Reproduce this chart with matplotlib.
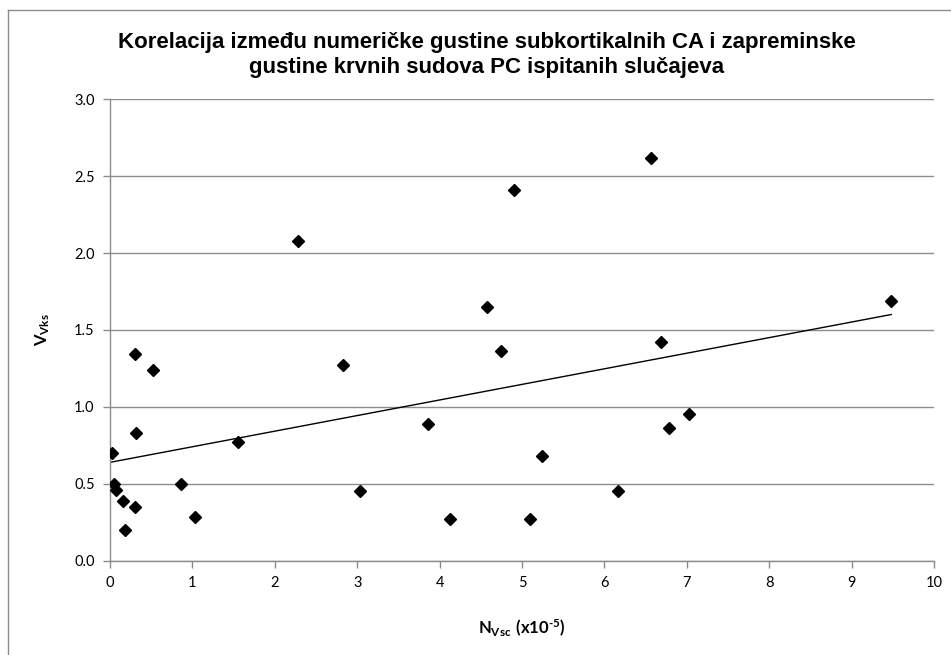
import numpy as np
import matplotlib
matplotlib.use('Agg')
import matplotlib.pyplot as plt
from matplotlib.lines import Line2D

# values
n_vsc = [0.02, 0.05, 0.07, 0.16, 0.18, 0.30, 0.30, 0.31, 0.52, 0.86, 1.03, 1.55, 2.28, 2.83,
         3.04, 3.86, 4.13, 4.58, 4.75, 4.90, 5.10, 5.24, 6.16, 6.56, 6.69, 6.79, 7.03, 9.48]
v_vks = [0.70, 0.50, 0.46, 0.39, 0.20, 0.35, 1.34, 0.83, 1.24, 0.50, 0.28, 0.77, 2.08, 1.27,
         0.45, 0.89, 0.27, 1.65, 1.36, 2.41, 0.27, 0.68, 0.45, 2.62, 1.42, 0.86, 0.95, 1.69]
x_ticks = [0, 1, 2, 3, 4, 5, 6, 7, 8, 9, 10]
y_ticks = [0.0, 0.5, 1.0, 1.5, 2.0, 2.5, 3.0]
title = 'Korelacija između numeričke gustine subkortikalnih CA i zapreminske\ngustine krvnih sudova PC ispitanih slučajeva'
x_label = r'$\mathbf{N_{Vsc}\ (x10^{' + '\u2010' + r'5})}$'
y_label = r'$\mathbf{V_{Vks}}$'

plt.rcParams['font.family'] = ['Lato', 'DejaVu Sans']
plt.rcParams['mathtext.fontset'] = 'custom'
plt.rcParams['mathtext.bf'] = 'Lato:weight=bold'
plt.rcParams['mathtext.rm'] = 'Lato'

grid_c = '#8c8c8c'

fig = plt.figure(figsize=(9.51, 6.55), dpi=100)
ax = fig.add_axes([110 / 951, 1 - 560.5 / 655, 824 / 951, 461.2 / 655])

ax.plot(n_vsc, v_vks, linestyle='none', marker='D', ms=6.3, color='black', zorder=3)

# linear trendline
k, b = np.polyfit(n_vsc, v_vks, 1)
xs = np.array([min(n_vsc), max(n_vsc)])
ax.plot(xs, k * xs + b, color='black', lw=1.0, zorder=2)

ax.set_xlim(0, 10)
ax.set_ylim(0, 3)
ax.set_xticks(x_ticks)
ax.set_yticks(y_ticks)
ax.set_yticklabels([f'{v:.1f}' for v in y_ticks])
ax.yaxis.grid(True, color=grid_c, lw=1)
ax.set_axisbelow(True)
for s in ['top', 'right']:
    ax.spines[s].set_visible(False)
for s in ['left', 'bottom']:
    ax.spines[s].set_color(grid_c)
    ax.spines[s].set_linewidth(1)
ax.tick_params(direction='out', length=5, width=1, color=grid_c, labelsize=10.5, pad=6)

fig.text(522 / 951, 1 - 628 / 655, x_label, ha='center', va='center', fontsize=12)
fig.text(43 / 951, 1 - 330 / 655, y_label, ha='center', va='center', fontsize=12, rotation=90)

fig.text(487 / 951, 1 - 55 / 655, title, ha='center', va='center', fontsize=16,
         fontweight='bold', family=['Liberation Sans Narrow', 'Liberation Sans', 'DejaVu Sans'],
         linespacing=1.2)

# chart area border
fig.add_artist(Line2D([8 / 951, 8 / 951], [-0.01, 1 - 10 / 655], transform=fig.transFigure, color=grid_c, lw=1))
fig.add_artist(Line2D([8 / 951, 1.01], [1 - 10 / 655, 1 - 10 / 655], transform=fig.transFigure, color=grid_c, lw=1))

fig.savefig('out.png', dpi=100)
